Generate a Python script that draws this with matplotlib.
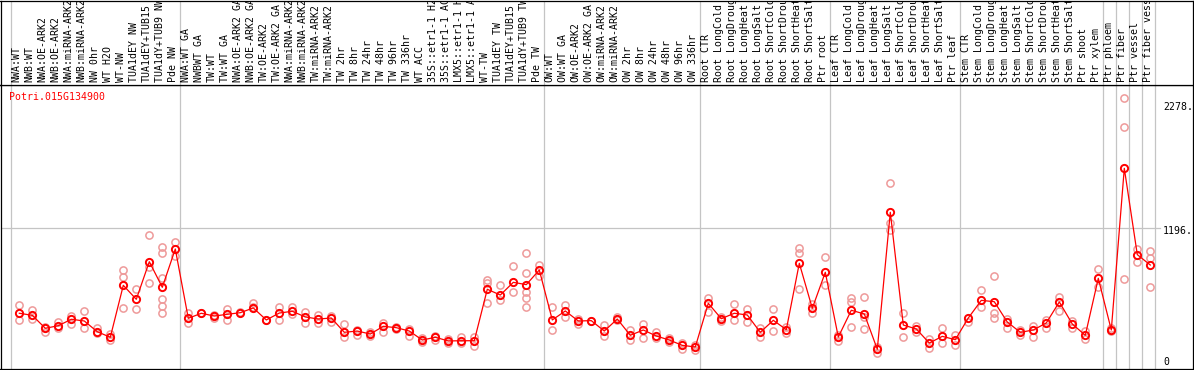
"""
Expression profile of Potri.015G134900 across sample groups.
Output: out.png
"""
import matplotlib
matplotlib.use("Agg")
import matplotlib.pyplot as plt
from matplotlib.transforms import offset_copy, blended_transform_factory

GENE = "Potri.015G134900"

SAMPLES = [
    # group 1
    "NWA:WT", "NWB:WT", "NWA:OE-ARK2", "NWB:OE-ARK2", "NWA:miRNA-ARK2",
    "NWB:miRNA-ARK2", "NW 0hr", "WT H2O", "WT-NW", "TUA1dEY NW",
    "TUA1dEY+TUB15", "TUA1dY+TUB9 NW", "Pde NW",
    # group 2
    "NWA:WT GA", "NWBWT GA", "TW:WT", "TW:WT GA", "NWA:OE-ARK2 GA",
    "NWB:OE-ARK2 GA", "TW:OE-ARK2", "TW:OE-ARK2 GA", "NWA:miRNA-ARK2",
    "NWB:miRNA-ARK2", "TW:miRNA-ARK2", "TW:miRNA-ARK2", "TW 2hr", "TW 8hr",
    "TW 24hr", "TW 48hr", "TW 96hr", "TW 336hr", "WT ACC", "35S::etr1-1 H2",
    "35S::etr1-1 AC", "LMX5::etr1-1 H", "LMX5::etr1-1 A", "WT-TW",
    "TUA1dEY TW", "TUA1dEY+TUB15", "TUA1dY+TUB9 TW", "Pde TW",
    # group 3
    "OW:WT", "OW:WT GA", "OW:OE-ARK2", "OW:OE-ARK2 GA", "OW:miRNA-ARK2",
    "OW:miRNA-ARK2", "OW 2hr", "OW 8hr", "OW 24hr", "OW 48hr", "OW 96hr",
    "OW 336hr",
    # root
    "Root CTR", "Root LongCold", "Root LongDroug", "Root LongHeat",
    "Root LongSalt", "Root ShortCold", "Root ShortDrou", "Root ShortHeat",
    "Root ShortSalt", "Ptr root",
    # leaf
    "Leaf CTR", "Leaf LongCold", "Leaf LongDroug", "Leaf LongHeat",
    "Leaf LongSalt", "Leaf ShortCold", "Leaf ShortDrou", "Leaf ShortHeat",
    "Leaf ShortSalt", "Ptr leaf",
    # stem
    "Stem CTR", "Stem LongCold", "Stem LongDroug", "Stem LongHeat",
    "Stem LongSalt", "Stem ShortCold", "Stem ShortDrou", "Stem ShortHeat",
    "Stem ShortSalt", "Ptr shoot", "Ptr xylem",
    # single tissues
    "Ptr phloem", "Ptr fiber", "Ptr vessel", "Ptr fiber vess",
]

GROUP_SIZES = [13, 28, 12, 10, 10, 11, 1, 1, 1, 1]

MEANS = [
    457, 439, 327, 349, 405, 390, 297, 249, 699, 578, 904, 682, 1014,
    413, 457, 433, 448, 462, 503, 399, 459, 474, 425, 407, 416, 292, 303,
    277, 344, 332, 303, 225, 249, 217, 219, 219, 665, 615, 725, 705, 832,
    399, 477, 390, 393, 303, 407, 266, 312, 260, 225, 179, 165,
    543, 410, 457, 442, 292, 396, 315, 890, 500, 812,
    251, 483, 451, 145, 1332, 355, 321, 199, 257, 228,
    416, 569, 557, 381, 292, 312, 373, 555, 364, 266, 760,
    312, 1713, 965, 875,
]

REPLICATES = [
    [529, 399], [485, 405], [297, 341], [384, 327], [433, 361], [477, 332],
    [327, 283], [277, 225], [832, 774, 500], [665, 491], [1135, 861, 717],
    [1029, 977, 760, 578, 520, 462], [1077, 953],
    [457, 375], [462], [442, 413], [491, 399], [471], [543, 509], [399],
    [509, 399], [509, 451], [471, 375], [442, 375], [433, 384], [364, 249],
    [312, 269], [297, 260], [375, 297], [341, 318], [318, 263], [240, 211],
    [260, 225], [234, 202], [254, 202], [249, 173], [745, 717, 543],
    [702, 572], [867, 644], [977, 803, 644, 587, 509], [875, 780],
    [514, 312], [529, 422], [405, 364], [393], [355, 260], [422, 399],
    [312, 225], [364, 240], [297, 240], [240, 211], [197, 145], [182, 139],
    [587, 471], [427, 393], [537, 399], [494, 384], [327, 249], [491, 303],
    [341, 283], [1020, 982, 665], [537, 462], [942, 702],
    [269, 219], [587, 557, 335], [595, 422, 321], [167, 110],
    [1583, 1242, 1179], [457, 249], [349, 292], [234, 159], [327, 197],
    [269, 182],
    [384], [659, 514], [780, 457, 419], [405, 327], [312, 269], [347, 254],
    [399, 327], [601, 477], [393, 327], [306, 231], [838, 687],
    [327, 306], [2320, 2068, 751], [1011, 904], [997, 933, 682],
]

YTICKS = [0, 1196, 2278]
YTICK_LABELS = ["0", "1196.", "2278."]

# pixel geometry of the reference
W, H = 1194, 370
COL0_PX, COL_PX = 19.3, 13.0          # first column centre, column pitch
ZERO_PX, PX_PER_UNIT = 366.0, 0.1154  # y pixel of value 0, pixels per unit
LEFT_PX, RIGHT_PX = 0.5, 1193.3
TOP_PX, DIV_PX, BOT_PX = 0.5, 85.0, 368.5

RED = "#ff0000"
PALE = "#ee9a9a"
GRID = "#c4c4c4"
FONT = "DejaVu Sans Mono"
FS = 7.1


def px2x(px):
    return (px - COL0_PX) / COL_PX


def px2y(py):
    return (ZERO_PX - py) / PX_PER_UNIT


def main():
    fig = plt.figure(figsize=(W / 100, H / 100), dpi=100)
    fig.patch.set_facecolor("white")

    fl, fw = LEFT_PX / W, (RIGHT_PX - LEFT_PX) / W
    ax = fig.add_axes([fl, 1 - BOT_PX / H, fw, (BOT_PX - DIV_PX) / H])
    hx = fig.add_axes([fl, 1 - DIV_PX / H, fw, (DIV_PX - TOP_PX) / H])

    xlim = (px2x(LEFT_PX), px2x(RIGHT_PX))
    for a in (ax, hx):
        a.set_xlim(*xlim)
        a.set_xticks([])
        a.set_yticks([])
        for s in a.spines.values():
            s.set_color("black")
            s.set_linewidth(0.9)
    ax.set_ylim(px2y(BOT_PX), px2y(DIV_PX))
    hx.set_ylim(0, 1)

    # group separators
    bounds = [0]
    for n in GROUP_SIZES:
        bounds.append(bounds[-1] + n)
    for b in bounds:
        for a in (ax, hx):
            a.axvline(b - 0.66, color=GRID, lw=0.9, zorder=1)

    # horizontal reference line
    ax.axhline(YTICKS[1], xmin=0, xmax=(1160 - LEFT_PX) / (RIGHT_PX - LEFT_PX),
               color=GRID, lw=0.9, zorder=1)

    # replicate points
    xs_r, ys_r = [], []
    for i, reps in enumerate(REPLICATES):
        for v in reps:
            xs_r.append(i)
            ys_r.append(v)
    ax.plot(xs_r, ys_r, ls="none", marker="o", ms=5.2, mfc="none",
            mec=PALE, mew=1.1, zorder=2)

    # means
    xs = list(range(len(MEANS)))
    ax.plot(xs, MEANS, color=RED, lw=0.9, zorder=3)
    ax.plot(xs, MEANS, ls="none", marker="o", ms=5.2, mfc="none",
            mec=RED, mew=1.4, zorder=4)

    # sample labels in header
    tr = blended_transform_factory(hx.transData, hx.transAxes)
    for i, lab in enumerate(SAMPLES):
        hx.text(i - 0.2, (DIV_PX - 82) / (DIV_PX - TOP_PX), lab, transform=tr,
                rotation=90, ha="center", va="bottom", family=FONT,
                fontsize=FS, color="black", clip_on=True)

    # right-hand value labels
    lab_x = px2x(1163)
    for v, s in zip(YTICKS, YTICK_LABELS):
        dy = 4 if v == 0 else -3.5
        t = offset_copy(ax.transData, fig=fig, x=0, y=dy, units="dots")
        ax.text(lab_x, v, s, transform=t, ha="left", va="center",
                family=FONT, fontsize=FS, color="black")

    fig.text(9 / W, 1 - 97 / H, GENE, ha="left", va="center",
             family=FONT, fontsize=FS, color=RED)

    fig.savefig("out.png", dpi=100)
    plt.close(fig)


if __name__ == "__main__":
    main()
